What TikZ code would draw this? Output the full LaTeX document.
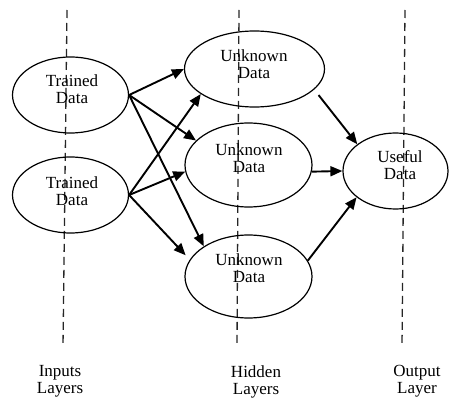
\documentclass[tikz,border=0pt]{standalone}
\usepackage{fontspec}
\setmainfont{Liberation Serif}
\usetikzlibrary{shapes.geometric,arrows.meta}
\begin{document}
\begin{tikzpicture}[x=1pt,y=-1pt,
  layerline/.style={draw=black!85,line width=1.3pt,dash pattern=on 8pt off 5pt},
  blob/.style={draw=black,line width=1.2pt,ellipse,inner sep=0pt},
  lbl/.style={inner sep=0pt,align=center,font=\fontsize{17}{17}\selectfont},
  arr/.style={line width=1.9pt,-{Triangle[length=12pt,width=10pt]}}]
\useasboundingbox (0,0) rectangle (450,401);
% layer guide lines
\coordinate (i1) at (67,10); \coordinate (i2) at (63,347);
\coordinate (h1) at (239,10); \coordinate (h2) at (237,347);
\coordinate (o1) at (405,10); \coordinate (o2) at (402,347);
\draw[layerline] (i1) -- (i2);
\draw[layerline] (h1) -- (h2);
\draw[layerline] (o1) -- (o2);
% ellipses
\node[blob,minimum width=116pt,minimum height=76pt] (t1) at (70.5,95) {};
\node[blob,minimum width=116pt,minimum height=76pt] (t2) at (70.5,195) {};
\node[blob,minimum width=140pt,minimum height=76pt] (u1) at (254.5,69) {};
\node[blob,minimum width=127pt,minimum height=84pt] (u2) at (248.5,165) {};
\node[blob,minimum width=127pt,minimum height=83pt] (u3) at (248.5,276.5) {};
\node[blob,minimum width=105pt,minimum height=76pt] (o) at (395.5,171) {};
% texts
\node[lbl] (t1t) at (72,89.5) {Trained\\Data};
\node[lbl] (t2t) at (72,191.5) {Trained\\Data};
\node[lbl] (u1t) at (254,64.5) {Unknown\\Data};
\node[lbl] (u2t) at (249,158.5) {Unknown\\Data};
\node[lbl] (u3t) at (249,268.5) {Unknown\\Data};
\node[lbl] (ot) at (400,165.5) {Useful\\Data};
\node[lbl] (il) at (60,381.7) {Inputs\\Layers};
\node[lbl] (hl) at (256,381.5) {Hidden\\Layers};
\node[lbl] (ol) at (417,381.5) {Output\\Layer};
% connectors
\draw[arr] (t1.east) -- (u1.west);
\draw[arr] (t1.east) -- (u2.155);
\draw[arr] (t1.east) -- (u3.146);
\draw[arr] (t2.east) -- (u1.205);
\draw[arr] (t2.east) -- (u2.186);
\draw[arr,shorten >=6pt] (t2.east) -- (u3.164);
\draw[arr,shorten <=7pt] (u1.-19) -- (o.145);
\draw[arr] (u2.-6) -- (o.west);
\draw[arr] (u3.15) -- (o.214);
\end{tikzpicture}
\end{document}
